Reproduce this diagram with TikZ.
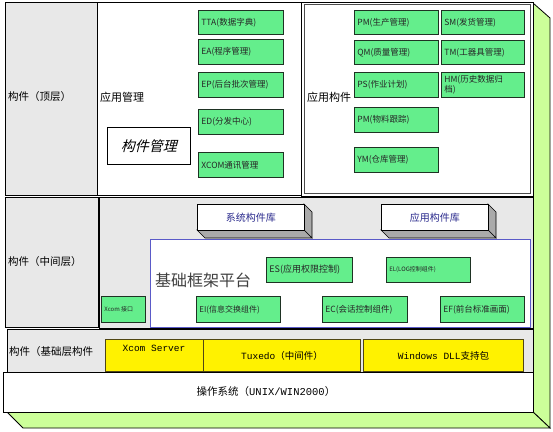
\documentclass[tikz,border=0pt]{standalone}
\usepackage{fontspec}
\setmainfont{Noto Sans CJK SC}
\setmonofont{Liberation Mono}
\newfontfamily\cjkslant[FakeSlant=0.25]{Noto Sans CJK SC}
\definecolor{gfill}{RGB}{100,238,140}
\definecolor{gborder}{RGB}{30,50,35}
\definecolor{panelgray}{RGB}{232,232,232}
\definecolor{sidegreen}{RGB}{204,255,153}
\definecolor{platblue}{RGB}{90,90,200}
\definecolor{libblue}{RGB}{40,40,140}
\definecolor{libshade}{RGB}{170,170,170}
\definecolor{yborder}{RGB}{80,70,20}
\tikzset{
  panel/.style={draw=black, line width=1pt},
  gbox/.style={draw=gborder, fill=gfill, line width=0.8pt, anchor=north west,
    inner xsep=3pt, inner ysep=0pt, text=black!85, font=\fontsize{8.5}{10}\selectfont},
  ybox/.style={draw=yborder, fill=yellow, line width=1pt, anchor=north west,
    inner sep=0pt, font=\fontsize{9.5}{11}\selectfont},
  lay/.style={anchor=west, inner sep=0pt, font=\fontsize{10.5}{12}\selectfont},
  libface/.style={draw=black, line width=0.8pt, fill=white, anchor=north west,
    minimum width=107pt, minimum height=26pt, inner sep=0pt, text=libblue,
    font=\fontsize{10}{12}\selectfont},
  libside/.style={draw=black, line width=0.6pt, fill=libshade}
}
\newcommand\GB[7][]{\node[gbox,#1,minimum width=#5pt,minimum height=#6pt] (#2) at (#3,#4) {\parbox{\dimexpr#5pt-6pt\relax}{\raggedright #7}};}
\begin{document}
\begin{tikzpicture}[x=1pt,y=-1pt]
\useasboundingbox (0,0) rectangle (553,431);
% 3D side faces
\draw[fill=sidegreen, line width=0.8pt] (533,3) -- (550,18) -- (550,428) -- (533,412) -- cycle;
\draw[fill=sidegreen, line width=0.8pt] (7,412) -- (533,412) -- (550,428) -- (23,428) -- cycle;
% top layer
\draw[panel, fill=panelgray] (5,2) rectangle (97,195);
\draw[panel, fill=white] (97,2) rectangle (301,195);
\draw[panel, fill=white] (301,2) rectangle (533,196);
\draw[black!70, line width=0.6pt] (304,4) rectangle (530,193);
% middle layer
\draw[panel, fill=panelgray] (99,197) rectangle (533,328);
\draw[panel, fill=panelgray] (5,197) rectangle (98,327);
% base layer
\draw[panel, fill=panelgray] (7,329) rectangle (533,372);
% OS
\draw[panel, fill=white] (3,372) rectangle (533,412);

% labels
\node[lay] (l1) at (8,97) {构件（顶层）};
\node[lay, font=\fontsize{11}{13}\selectfont] (l2) at (100,97) {应用管理};
\node[lay, font=\fontsize{11}{13}\selectfont] (l3) at (307,97) {应用构件};
\node[lay] (l4) at (8,262) {构件（中间层）};
\node[lay] (l5) at (9,352) {构件（基础层构件};
\node[inner sep=0pt, font=\fontsize{10.5}{12}\selectfont] (os) at (266,392) {操作系统（{\ttfamily UNIX/WIN2000}）};

% component management
\node[draw, fill=white, line width=0.8pt, anchor=north west, minimum width=83pt,
  minimum height=37pt, font=\cjkslant\fontsize{14}{16}\selectfont] (gjgl) at (107,127) {构件管理};

% application management boxes
\GB{tta}{198}{10}{85}{24}{TTA(数据字典)}
\GB{ea}{198}{39}{85}{25}{EA(程序管理)}
\GB{ep}{198}{72}{85}{25}{EP(后台批次管理)}
\GB{ed}{198}{109}{85}{25}{ED(分发中心)}
\GB{xcm}{198}{152}{85}{25}{XCOM通讯管理}

% application components
\GB{pm}{354}{10}{84}{24}{PM(生产管理)}
\GB{qm}{354}{40}{84}{24}{QM(质量管理)}
\GB{ps}{354}{72}{84}{25}{PS(作业计划)}
\GB{pmw}{354}{107}{84}{25}{PM(物料跟踪)}
\GB{ym}{354}{147}{84}{25}{YM(仓库管理)}
\GB{sm}{441}{10}{83}{24}{SM(发货管理)}
\GB{tm}{441}{40}{83}{24}{TM(工器具管理)}
\GB[font=\fontsize{8.5}{10.5}\selectfont]{hm}{441}{72}{83}{25}{HM(历史数据归\\档)}

% libraries
\draw[libside] (304,204) -- (312,212) -- (312,238) -- (304,230) -- cycle;
\draw[libside] (197,230) -- (304,230) -- (312,238) -- (205,238) -- cycle;
\node[libface] (syslib) at (197,204) {系统构件库};
\draw[libside] (488,204) -- (496,212) -- (496,238) -- (488,230) -- cycle;
\draw[libside] (381,230) -- (488,230) -- (496,238) -- (389,238) -- cycle;
\node[libface] (applib) at (381,204) {应用构件库};

% platform
\draw[draw=platblue, line width=1pt, fill=white] (150,239) rectangle (530,327);
\node[anchor=west, inner sep=0pt, text=black!75, font=\fontsize{16}{18}\selectfont] (ptxt) at (155,280) {基础框架平台};

\GB[font=\fontsize{6}{7}\selectfont]{xif}{101}{296}{44}{26}{Xcom 接口}
\GB[font=\fontsize{8}{9}\selectfont]{ei}{196}{296}{84}{26}{EI(信息交换组件)}
\GB[font=\fontsize{9}{10}\selectfont]{es}{266}{257}{86}{25}{ES(应用权限控制)}
\GB[font=\fontsize{6}{7}\selectfont]{el}{386}{257}{84}{25}{EL(LOG控制组件)}
\GB[font=\fontsize{8.5}{10}\selectfont]{ec}{322}{296}{85}{26}{EC(会话控制组件)}
\GB[font=\fontsize{8.5}{10}\selectfont]{ef}{440}{296}{84}{26}{EF(前台标准画面)}

% base layer boxes
\node[ybox, minimum width=98pt, minimum height=32pt] (xs) at (105,339) {};
\node[inner sep=0pt, font=\ttfamily\fontsize{9.5}{11}\selectfont] (xst) at (154,348) {Xcom Server};
\node[ybox, minimum width=157pt, minimum height=32pt] (tux) at (203,339) {{\ttfamily Tuxedo}（中间件）};
\node[ybox, minimum width=160pt, minimum height=32pt] (win) at (363,339) {{\ttfamily Windows DLL}支持包};
\end{tikzpicture}
\end{document}
